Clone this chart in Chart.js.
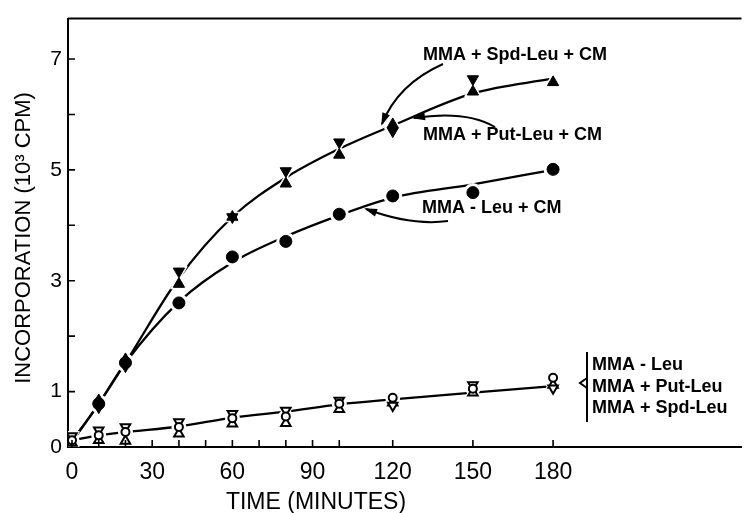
<!DOCTYPE html>
<html>
<head>
<meta charset="utf-8">
<script src="https://cdn.jsdelivr.net/npm/chart.js@4.4.0/dist/chart.umd.min.js"></script>
<style>
  html, body { margin: 0; padding: 0; background: #fff; }
  #wrap { width: 752px; height: 513px; }
</style>
</head>
<body>
<div id="wrap"><canvas id="chart"></canvas></div>
<script>
// sampling times (minutes)
const times = [0, 10, 20, 40, 60, 80, 100, 120, 150, 180];
const xTickLabels = [0, 30, 60, 90, 120, 150, 180];
const xTickMarks = [0, 10, 20, 30, 40, 50, 60, 70, 80, 90, 100, 120, 150, 180];
const yTickLabels = [0, 1, 3, 5, 7];
const yTickMarks = [1, 2, 3, 4, 5, 6, 7];

// hand drawn curves (10^3 CPM)
const curvePolyCm = [0.10, 0.78, 1.52, 3.05, 4.15, 4.86, 5.38, 5.80, 6.38, 6.65];
const curveLeuCm = [0.10, 0.78, 1.52, 2.62, 3.33, 3.80, 4.18, 4.50, 4.74, 5.00];
const curveLeu = [0.12, 0.21, 0.27, 0.37, 0.53, 0.64, 0.77, 0.86, 0.98, 1.10];

// measured points
const leuCm = [null, 0.78, 1.52, 2.60, 3.43, 3.71, 4.20, 4.53, 4.59, 5.01];   // MMA - Leu + CM
const spdCm = [null, 0.84, 1.58, 2.94, 4.15, 4.75, 5.27, 5.82, 6.41, 6.58];   // MMA + Spd - Leu + CM
const putCm = [null, 0.72, 1.46, 3.17, 4.15, 4.98, 5.50, 5.70, 6.64, null];   // MMA + Put - Leu + CM
const leu = [0.12, 0.21, 0.27, 0.36, 0.52, 0.55, 0.78, 0.89, 1.05, 1.25];     // MMA - Leu
const putLeu = [0.20, 0.30, 0.36, 0.45, 0.60, 0.66, 0.84, 0.75, 1.12, 1.06];  // MMA + Put - Leu
const spdLeu = [0.07, 0.12, 0.11, 0.24, 0.42, 0.43, 0.68, 0.80, 0.98, 1.12];  // MMA + Spd - Leu

const pts = arr => times.map((t, i) => ({ x: t, y: arr[i] })).filter(p => p.y !== null);

const curve = arr => ({
  type: 'line', data: pts(arr), showLine: true, pointRadius: 0,
  borderColor: '#000', borderWidth: 2.3, cubicInterpolationMode: 'monotone', order: 3
});

const markerDefs = [
  { data: leuCm, style: 'circle', rot: 0, r: 6, fill: '#000' },
  { data: spdCm, style: 'triangle', rot: 0, r: 6.5, fill: '#000' },
  { data: putCm, style: 'triangle', rot: 180, r: 6.5, fill: '#000' },
  { data: leu, style: 'circle', rot: 0, r: 4, fill: '#fff' },
  { data: putLeu, style: 'triangle', rot: 180, r: 5.5, fill: '#fff' },
  { data: spdLeu, style: 'triangle', rot: 0, r: 5.5, fill: '#fff' }
];

// white halo behind each marker so the curves stop short of it
const halos = markerDefs.map(m => ({
  type: 'line', data: pts(m.data), showLine: false,
  pointStyle: m.style, pointRotation: m.rot, pointRadius: m.r + 3,
  pointBackgroundColor: '#fff', pointBorderColor: '#fff', pointBorderWidth: 1, order: 2
}));

const markers = markerDefs.map(m => ({
  type: 'line', data: pts(m.data), showLine: false,
  pointStyle: m.style, pointRotation: m.rot, pointRadius: m.r,
  pointBackgroundColor: m.fill, pointBorderColor: '#000',
  pointBorderWidth: m.fill === '#000' ? 1 : 2, order: 1
}));

function arrow(ctx, x0, y0, cx, cy, x1, y1) {
  ctx.beginPath();
  ctx.moveTo(x0, y0);
  ctx.quadraticCurveTo(cx, cy, x1, y1);
  ctx.stroke();
  const ang = Math.atan2(y1 - cy, x1 - cx);
  const len = 11, w = 4;
  ctx.beginPath();
  ctx.moveTo(x1 + Math.cos(ang) * 2, y1 + Math.sin(ang) * 2);
  ctx.lineTo(x1 - Math.cos(ang) * len - Math.sin(ang) * w, y1 - Math.sin(ang) * len + Math.cos(ang) * w);
  ctx.lineTo(x1 - Math.cos(ang) * len + Math.sin(ang) * w, y1 - Math.sin(ang) * len - Math.cos(ang) * w);
  ctx.closePath();
  ctx.fill();
}

const decorations = {
  id: 'decorations',
  afterDraw(chart) {
    const { ctx, chartArea: a, scales: { x, y } } = chart;
    ctx.save();
    ctx.strokeStyle = '#000';
    ctx.fillStyle = '#000';

    // top frame line
    ctx.lineWidth = 2;
    ctx.beginPath();
    ctx.moveTo(a.left, a.top);
    ctx.lineTo(a.right, a.top);
    ctx.stroke();

    // inward tick marks
    ctx.lineWidth = 1.6;
    ctx.beginPath();
    xTickMarks.forEach(v => {
      const px = x.getPixelForValue(v);
      ctx.moveTo(px, a.bottom);
      ctx.lineTo(px, a.bottom - 7);
    });
    yTickMarks.forEach(v => {
      const py = y.getPixelForValue(v);
      ctx.moveTo(a.left, py);
      ctx.lineTo(a.left + 7, py);
    });
    ctx.stroke();

    // curve labels
    ctx.font = 'bold 18px "Liberation Sans", Arial, sans-serif';
    ctx.textBaseline = 'middle';
    ctx.textAlign = 'left';
    ctx.fillText('MMA + Spd-Leu + CM', 423, 55);
    ctx.fillText('MMA + Put-Leu + CM', 423, 135);
    ctx.fillText('MMA - Leu + CM', 422, 208);

    ctx.lineWidth = 2;
    arrow(ctx, 443, 64, 398, 84, 382, 124);
    arrow(ctx, 495, 127, 466, 110, 414, 118);
    arrow(ctx, 448, 221, 412, 226, 366, 209);

    // brace for the three lower curves
    ctx.beginPath();
    ctx.moveTo(587, 352);
    ctx.lineTo(587, 422);
    ctx.moveTo(587, 378);
    ctx.lineTo(580, 383);
    ctx.lineTo(587, 388);
    ctx.stroke();
    ctx.fillText('MMA - Leu', 592, 365);
    ctx.fillText('MMA + Put-Leu', 592, 387);
    ctx.fillText('MMA + Spd-Leu', 592, 408);

    // axis titles
    ctx.font = '23px "Liberation Sans", Arial, sans-serif';
    ctx.textAlign = 'center';
    ctx.fillText('TIME (MINUTES)', 316, 503);
    ctx.save();
    ctx.translate(24, 238);
    ctx.rotate(-Math.PI / 2);
    ctx.font = '22px "Liberation Sans", Arial, sans-serif';
    ctx.fillText('INCORPORATION (10³ CPM)', 0, 0);
    ctx.restore();

    ctx.restore();
  }
};

new Chart(document.getElementById('chart'), {
  type: 'scatter',
  data: {
    datasets: [curve(curvePolyCm), curve(curveLeuCm), curve(curveLeu), ...halos, ...markers]
  },
  options: {
    responsive: true,
    maintainAspectRatio: false,
    animation: false,
    layout: { padding: { top: 12, left: 0, right: 0, bottom: 0 } },
    plugins: { legend: { display: false }, tooltip: { enabled: false } },
    scales: {
      x: {
        type: 'linear', min: -1.5, max: 250.5,
        afterBuildTicks: s => { s.ticks = xTickLabels.map(v => ({ value: v })); },
        afterFit: s => { s.height = 66; },
        grid: { display: false, drawTicks: false },
        border: { display: true, color: '#000', width: 2 },
        ticks: {
          color: '#000', padding: 12, maxRotation: 0, autoSkip: false,
          font: { family: '"Liberation Sans", Arial, sans-serif', size: 23 }
        }
      },
      y: {
        type: 'linear', min: 0, max: 7.73,
        afterBuildTicks: s => { s.ticks = yTickLabels.map(v => ({ value: v })); },
        afterFit: s => { s.width = 68; },
        grid: { display: false, drawTicks: false },
        border: { display: true, color: '#000', width: 2 },
        ticks: {
          color: '#000', padding: 6, autoSkip: false,
          font: { family: '"Liberation Sans", Arial, sans-serif', size: 21 }
        }
      }
    }
  },
  plugins: [decorations]
});
</script>
</body>
</html>
